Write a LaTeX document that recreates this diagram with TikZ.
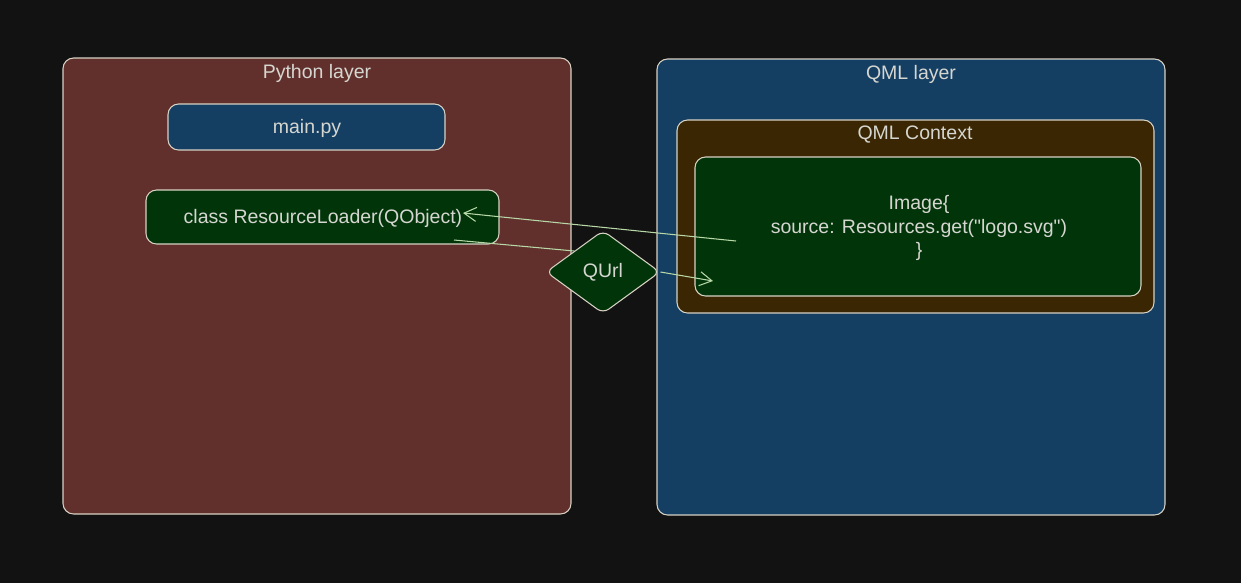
\documentclass[tikz,border=0pt]{standalone}
\usepackage{fontspec}
\setmainfont{Liberation Sans}[Ligatures=TeXOff]
\usetikzlibrary{shapes.geometric,arrows.meta}
\definecolor{bgc}{HTML}{121212}
\definecolor{pyfill}{HTML}{61302C}
\definecolor{qmlfill}{HTML}{143F63}
\definecolor{greenfill}{HTML}{013509}
\definecolor{ctxfill}{HTML}{3A2602}
\definecolor{edge}{HTML}{D8D2C4}
\definecolor{txt}{HTML}{D6D6D0}
\tikzset{
  box/.style={draw=edge, line width=0.6pt, rounded corners=6pt, text=txt},
  lbl/.style={text=txt, font=\fontsize{11.1}{13.5}\selectfont},
  conn/.style={draw=edge!85!green, line width=0.6pt, -{Straight Barb[length=7pt,width=8pt,line width=0.6pt]}},
  seg/.style={draw=edge!85!green, line width=0.6pt}
}
\begin{document}
\begin{tikzpicture}[x=0.02cm,y=-0.02cm]
\fill[bgc] (0,0) rectangle (1241,583);
\useasboundingbox (0,0) rectangle (1241,583);
% layers
\draw[box, fill=pyfill] (63,58) rectangle (571,514);
\node[lbl] (pytitle) at (317,73) {Python layer};
\draw[box, fill=qmlfill] (657,59) rectangle (1165,515);
\node[lbl] (qmltitle) at (911,74) {QML layer};
% python boxes
\node[box, fill=qmlfill, minimum width=277*0.02cm, minimum height=46*0.02cm] (main) at (306.5,127) {};
\node[lbl] (maintext) at (307,128) {main.py};
\node[box, fill=greenfill, minimum width=353*0.02cm, minimum height=54*0.02cm] (loader) at (322.5,217) {};
\node[lbl] (loadertext) at (323,218) {class ResourceLoader(QObject)};
% QML context
\draw[box, fill=ctxfill] (677,120) rectangle (1154,313);
\node[lbl] (ctxtitle) at (915,135) {QML Context};
\node[box, fill=greenfill, minimum width=446*0.02cm, minimum height=139*0.02cm] (image) at (918,226.5) {};
\node[lbl, align=center] (imagetext) at (919,228) {Image\{\\source: Resources.get("logo.svg")\\\}};
% diamond
\node[draw=edge, line width=0.6pt, fill=greenfill, diamond, aspect=1.38, minimum width=114*0.02cm, minimum height=83*0.02cm, inner sep=0pt, rounded corners=4pt, text=txt, font=\fontsize{11.1}{13.5}\selectfont] (qurl) at (603,272) {QUrl};
% connectors
\coordinate (imgfrom) at (736,241);
\coordinate (loaderto) at (463,213);
\coordinate (loaderfrom) at (454,240);
\coordinate (imgto) at (713,281);
\draw[conn] (imgfrom) -- (loaderto);
\draw[seg] (loaderfrom) -- (qurl.north west);
\draw[conn] (qurl.east) -- (imgto);
\end{tikzpicture}
\end{document}
